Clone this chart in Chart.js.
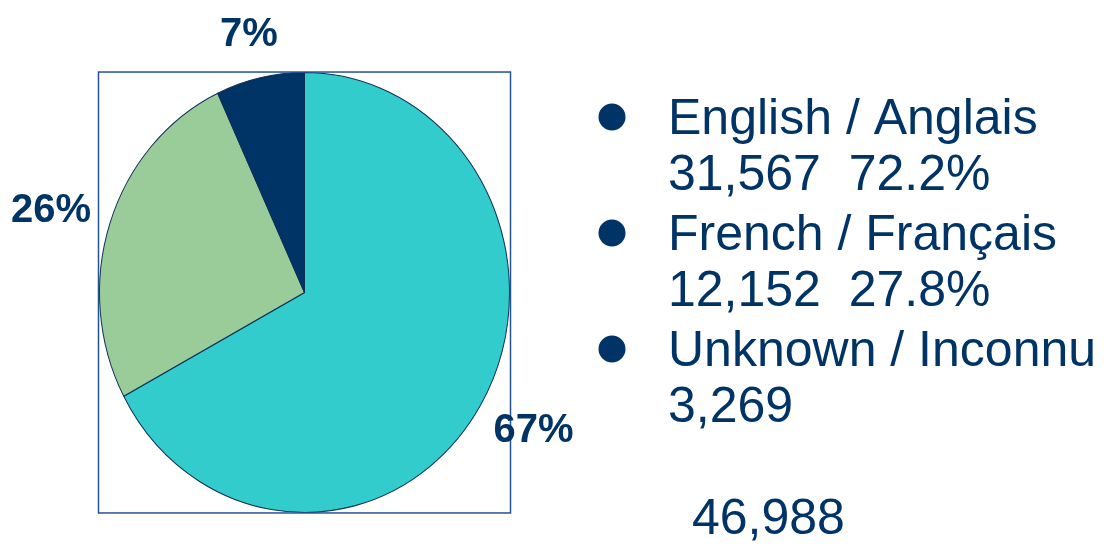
<!DOCTYPE html>
<html>
<head>
<meta charset="utf-8">
<script src="https://cdn.jsdelivr.net/npm/chart.js@4.4.0/dist/chart.umd.min.js"></script>
<style>
  html, body { margin: 0; padding: 0; background: #ffffff; }
  canvas { display: block; }
</style>
</head>
<body>
<canvas id="langChart" width="1104" height="548"></canvas>
<script>
// Langue des répondants
const langNames = ['English / Anglais', 'French / Français', 'Unknown / Inconnu'];
const langCounts = [31567, 12152, 3269];
const langColors = ['#33cccc', '#99cc99', '#003366'];
const knownCount = 2; // only English and French get a share in the legend

const NAVY = '#003366';
const FONT = 'Arial, "Liberation Sans", Helvetica, sans-serif';
const STRETCH_Y = 1.073; // pie is drawn slightly taller than wide

const fmt = n => n.toLocaleString('en-US');
const total = langCounts.reduce((a, b) => a + b, 0);
const knownTotal = langCounts.slice(0, knownCount).reduce((a, b) => a + b, 0);

const pieExtras = {
    id: 'pieExtras',
    beforeDatasetsDraw(chart) {
        const { ctx } = chart;
        const arc = chart.getDatasetMeta(0).data[0];
        ctx.save();
        ctx.translate(arc.x, arc.y);
        ctx.scale(1, STRETCH_Y);
        ctx.translate(-arc.x, -arc.y);
    },
    afterDatasetsDraw(chart) {
        chart.ctx.restore();
    },
    afterDraw(chart) {
        const { ctx } = chart;
        const arcs = chart.getDatasetMeta(0).data;
        const cx = arcs[0].x, cy = arcs[0].y, r = arcs[0].outerRadius;
        const ry = r * STRETCH_Y;

        // plot area frame
        ctx.save();
        ctx.strokeStyle = '#24538f';
        ctx.lineWidth = 1.5;
        ctx.strokeRect(cx - r - 1, cy - ry - 0.5, 2 * r + 2, 2 * ry + 1);

        // percent labels outside each slice
        ctx.fillStyle = NAVY;
        ctx.font = 'bold 40px ' + FONT;
        ctx.textAlign = 'center';
        ctx.textBaseline = 'middle';
        const gapX = 22, gapY = 31;
        arcs.forEach((a, i) => {
            const mid = (a.startAngle + a.endAngle) / 2;
            const txt = Math.round(langCounts[i] / total * 100) + '%';
            const w = ctx.measureText(txt).width;
            const h = 29;
            const x = cx + Math.cos(mid) * (r + gapX + w / 2);
            const y = cy + Math.sin(mid) * (ry + gapY + h / 2);
            ctx.fillText(txt, x, y + 2);
        });

        // legend column
        ctx.font = '50px ' + FONT;
        ctx.textAlign = 'left';
        ctx.textBaseline = 'alphabetic';
        const textX = 668, bulletX = 612;
        let base = 134;
        langNames.forEach((name, i) => {
            ctx.beginPath();
            ctx.arc(bulletX, base - 17, 13.5, 0, Math.PI * 2);
            ctx.fill();
            ctx.fillText(name, textX, base);
            let line = fmt(langCounts[i]);
            if (i < knownCount) {
                line += '  ' + (langCounts[i] / knownTotal * 100).toFixed(1) + '%';
            }
            ctx.fillText(line, textX, base + 56);
            base += 116;
        });
        ctx.fillText(fmt(total), 692, 534);
        ctx.restore();
    }
};

new Chart(document.getElementById('langChart'), {
    type: 'pie',
    data: {
        labels: langNames,
        datasets: [{
            data: langCounts,
            backgroundColor: langColors,
            borderColor: '#0d2f5c',
            borderWidth: 1
        }]
    },
    options: {
        responsive: false,
        animation: false,
        layout: { padding: { left: 99, right: 594, top: 87, bottom: 50 } },
        plugins: {
            legend: { display: false },
            tooltip: { enabled: false }
        }
    },
    plugins: [pieExtras]
});
</script>
</body>
</html>
